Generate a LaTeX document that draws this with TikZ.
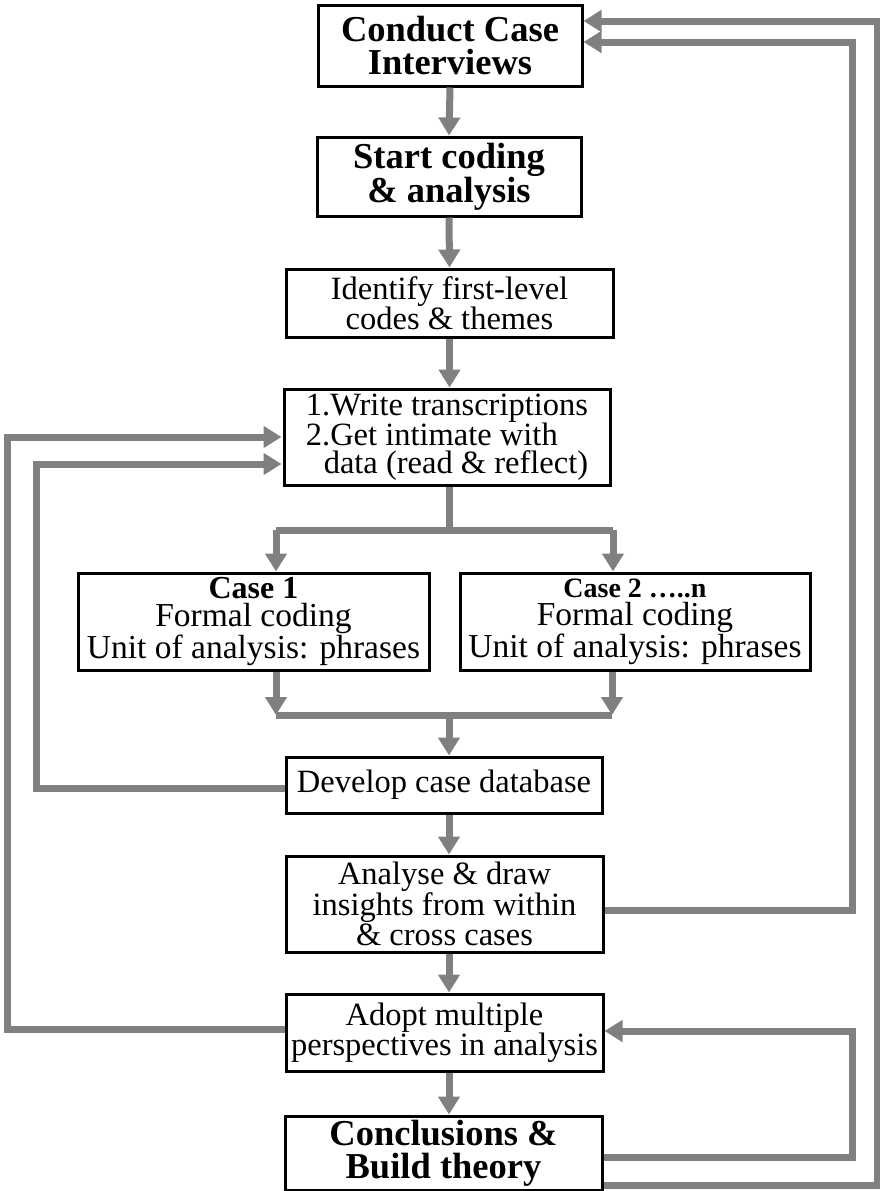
\documentclass[tikz,border=0pt]{standalone}
\usepackage{fontspec}
\setmainfont{Liberation Serif}
\usetikzlibrary{arrows.meta}

\begin{document}
\begin{tikzpicture}[
      x=1pt, y=-1pt,
      inner sep=0pt,
      box/.style={draw, line width=3pt, fill=white, align=center,
        font=\fontsize{32.5}{28}\selectfont},
      casebox/.style={box, font=\fontsize{33.5}{28}\selectfont},
      titlebox/.style={box, font=\fontsize{36.5}{33}\selectfont\bfseries},
      flow/.style={draw=gray, line width=7pt, -{Triangle[length=18pt,width=21pt]}},
      link/.style={draw=gray, line width=7pt}
    ]
    \useasboundingbox (0,0) rectangle (880,1191);
    \node (interviews) [titlebox, minimum width=264pt, minimum height=81pt] at (450,45.5) {Conduct Case\\Interviews};
    \node (start) [titlebox, minimum width=264pt, minimum height=79pt] at (449,176.5) {Start coding\\\& analysis};
    \node (identify) [box, minimum width=327pt, minimum height=68pt] at (449.5,303) {Identify first-level\\codes \& themes};
    \node (transcribe) [box, align=left, minimum width=326pt, minimum height=96pt] at (447,437) {1.Write transcriptions\\2.Get intimate with\\\hspace*{0.55em}data (read \& reflect)};
    \node (case1) [casebox, minimum width=351pt, minimum height=97pt] at (253.5,621.5) {{\fontsize{32}{27}\selectfont\bfseries Case 1}\\Formal coding\\Unit of analysis: phrases};
    \node (case2) [casebox, minimum width=350pt, minimum height=97pt] at (635,621.5) {{\fontsize{28}{27}\selectfont\bfseries Case 2 …..n}\\Formal coding\\Unit of analysis: phrases};
    \node (develop) [box, minimum width=316pt, minimum height=56pt] at (444,785) {Develop case database};
    \node (analyse) [box, minimum width=317pt, minimum height=96pt] at (444.5,904) {Analyse \& draw\\insights from within\\\& cross cases};
    \node (adopt) [box, minimum width=317pt, minimum height=77pt] at (444.5,1032.5) {Adopt multiple\\perspectives in analysis};
    \node (conclusions) [titlebox, minimum width=317pt, minimum height=74pt] at (443.5,1153) {Conclusions \&\\Build theory};

    \coordinate (splitL) at (276,530);
    \coordinate (splitR) at (613,530);
    \coordinate (mergeL) at (276,715);
    \coordinate (mergeR) at (612,715);
    \coordinate (merge) at (449,715);

    \draw[flow] (interviews.south) -- (start.north);
    \draw[flow] (start.south) -- (identify.north);
    \draw[flow] (identify.south) -- (identify.south |- transcribe.north);
    \draw[link] (identify.south |- transcribe.south) -- (identify.south |- splitL);
    \draw[link] (splitL) -- (splitR);
    \draw[flow] (splitL) -- (splitL |- case1.north);
    \draw[flow] (splitR) -- (splitR |- case2.north);
    \draw[flow] (case1.south -| mergeL) -- (mergeL);
    \draw[flow] (case2.south -| mergeR) -- (mergeR);
    \draw[link] (mergeL) -- (mergeR);
    \draw[flow] (merge) -- (merge |- develop.north);
    \draw[flow] (develop.south -| merge) -- (merge |- analyse.north);
    \draw[flow] (analyse.south -| merge) -- (merge |- adopt.north);
    \draw[flow] (adopt.south -| merge) -- (merge |- conclusions.north);

    \draw[flow] ([yshift=-3pt]develop.west) -- ++(-248,0) |- ([yshift=-27pt,xshift=-1pt]transcribe.west);
    \draw[flow] ([yshift=3.5pt]adopt.west) -- ++(-277,0) |- ([xshift=-1pt]transcribe.west);
    \draw[flow] ([yshift=-6pt]analyse.east) -- ++(248,0) |- ([yshift=3.5pt]interviews.east);
    \draw[flow] ([yshift=-4pt]conclusions.east) -- ++(249,0) |- ([yshift=1.5pt]adopt.east);
    \draw[flow] ([yshift=-32pt]conclusions.east) -- ++(274,0) |- ([yshift=24.5pt]interviews.east);
  \end{tikzpicture}
\end{document}
